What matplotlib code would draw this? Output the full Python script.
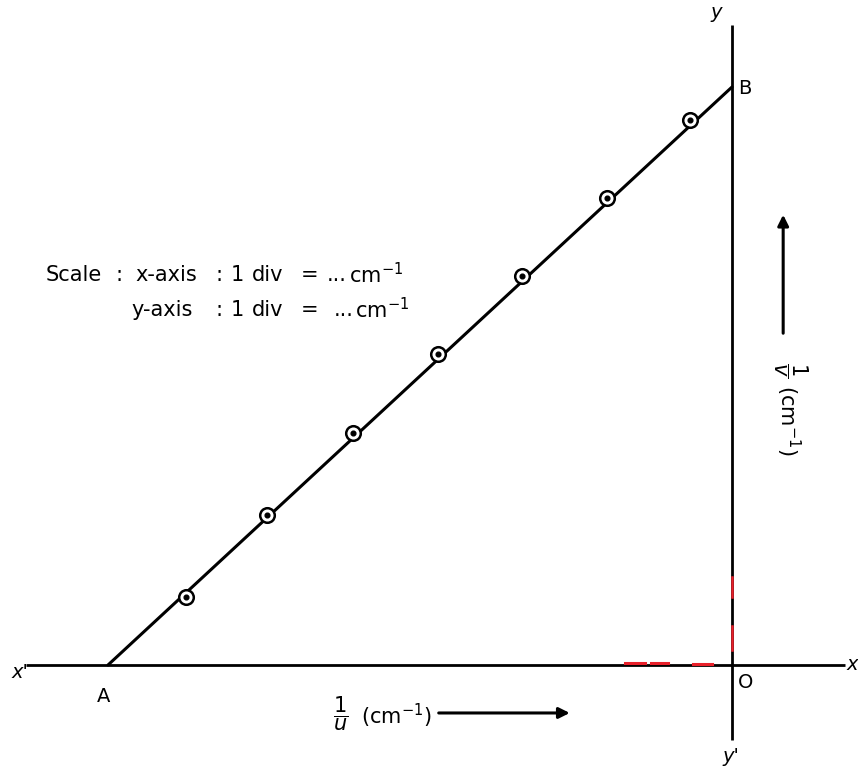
import matplotlib
matplotlib.use("Agg")
import matplotlib.pyplot as plt

plt.rcParams['font.family'] = ['DejaVu Sans']
plt.rcParams['mathtext.fontset'] = 'dejavusans'

# Observed reciprocals of object and image distances (cm^-1)
inv_u = [-0.0875, -0.0745, -0.0607, -0.0471, -0.0337, -0.0200, -0.0067]
inv_v = [0.0118, 0.0260, 0.0401, 0.0538, 0.0673, 0.0808, 0.0943]

# Intercepts of the best-fit line on the axes
A_x = -0.100
B_y = 0.100

W, H = 858, 769
fig = plt.figure(figsize=(W / 100, H / 100), dpi=100)
ax = fig.add_axes([0, 0, 1, 1])
ax.set_xlim(-0.11731, 0.020192)
ax.set_ylim(-0.017993, 0.115052)
ax.axis('off')


def fpos(px, py):
    """Figure-fraction position from a pixel offset measured from top-left."""
    return px / W, 1 - py / H


k = 'black'
red = '#e8202a'
# coordinate axes
ax.plot([-0.1132, 0.0181], [0, 0], color=k, lw=2.0, solid_capstyle='butt')
ax.plot([0, 0], [-0.0130, 0.1107], color=k, lw=2.0, solid_capstyle='butt')

# faint red construction marks near the origin
ax.plot([-0.0172, -0.0140], [0.0003, 0.0003], color=red, lw=2.2)
ax.plot([-0.0130, -0.0103], [0.0004, 0.0004], color=red, lw=2.2)
ax.plot([-0.0062, -0.0032], [0.0002, 0.0002], color=red, lw=2.2)
ax.plot([0.0, 0.0], [0.0118, 0.0152], color=red, lw=1.8)
ax.plot([0.0, 0.0], [0.0026, 0.0068], color=red, lw=1.8)

# straight line through the points
ax.plot([A_x, 0], [0, B_y], color=k, lw=2.2, solid_capstyle='round')
ax.plot(inv_u, inv_v, linestyle='none', marker='o', ms=10.5,
        mfc='white', mec=k, mew=1.8)
ax.plot(inv_u, inv_v, linestyle='none', marker='o', ms=3.4,
        mfc=k, mec=k)

# point and axis labels
fs = 14
labels = [("x'", 20, 672, 'italic'), ("x", 852, 665, 'italic'),
          ("A", 104, 697, 'normal'), ("O", 746, 683, 'normal'),
          ("y'", 731, 757, 'italic'), ("y", 716, 13, 'italic'),
          ("B", 745, 88, 'normal')]
for s, px, py, st in labels:
    fig.text(*fpos(px, py), s, fontsize=fs, ha='center', va='center', style=st)

# scale note
row1 = [("Scale", 46), (":", 116), ("x-axis", 135), (":", 215), ("1", 231),
        ("div", 252), ("=", 301), ("...", 327), ("cm$^{-1}$", 349)]
row2 = [("y-axis", 131), (":", 215), ("1", 231), ("div", 252), ("=", 301),
        ("...", 334), ("cm$^{-1}$", 355)]
for s, px in row1:
    fig.text(*fpos(px, 275), s, fontsize=15, ha='left', va='center')
for s, px in row2:
    fig.text(*fpos(px, 310), s, fontsize=15, ha='left', va='center')

# horizontal quantity label with arrow
fig.text(*fpos(341, 714), r"$\dfrac{1}{u}$", fontsize=15, ha='center', va='center')
fig.text(*fpos(361, 716), r"(cm$^{-1}$)", fontsize=15, ha='left', va='center')
ax.annotate('', xy=(-0.0260, -0.0083), xytext=(-0.0470, -0.0083),
            arrowprops=dict(arrowstyle='-|>', color=k, lw=2.2,
                            mutation_scale=16, shrinkA=0, shrinkB=0))

# vertical quantity label with arrow
fig.text(*fpos(790, 370), r"$\dfrac{1}{v}$", fontsize=15, ha='center',
         va='center', rotation=-90)
fig.text(*fpos(788, 385), r"(cm$^{-1}$)", fontsize=15, ha='center',
         va='top', rotation=-90)
ax.annotate('', xy=(0.0082, 0.0779), xytext=(0.0082, 0.0574),
            arrowprops=dict(arrowstyle='-|>', color=k, lw=2.2,
                            mutation_scale=16, shrinkA=0, shrinkB=0))

fig.savefig('out.png', dpi=100, facecolor='white')
